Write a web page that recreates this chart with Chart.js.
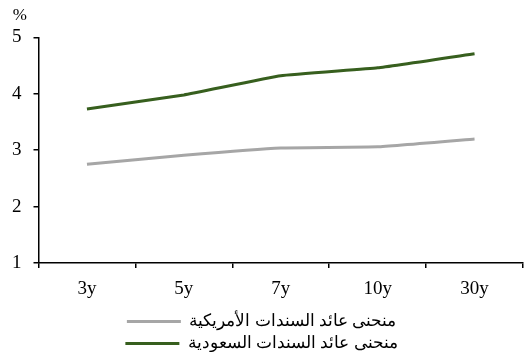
<!DOCTYPE html>
<html>
<head>
<meta charset="utf-8">
<script src="https://cdn.jsdelivr.net/npm/chart.js@4/dist/chart.umd.min.js"></script>
<style>
  html, body { margin: 0; padding: 0; background: #fff; }
  #wrap { width: 525px; height: 352px; }
</style>
</head>
<body>
<div id="wrap"><canvas id="bondChart" width="525" height="352"></canvas></div>
<script>
// tenors and yields (%)
var tenors = ['3y', '5y', '7y', '10y', '30y'];
var usYields = [2.75, 2.91, 3.04, 3.06, 3.20];
var saudiYields = [3.73, 3.98, 4.32, 4.46, 4.71];
var yTicks = [1, 2, 3, 4, 5];

var serif = "'Liberation Serif', 'Times New Roman', 'DejaVu Serif', serif";

var chartdata = {
    labels: tenors,
    datasets: [
        {
            label: 'منحنى عائد السندات الأمريكية',
            data: usYields,
            borderColor: '#a6a6a6',
            backgroundColor: '#a6a6a6',
            borderWidth: 3,
            pointRadius: 0,
            tension: 0.1
        },
        {
            label: 'منحنى عائد السندات السعودية',
            data: saudiYields,
            borderColor: '#375f1e',
            backgroundColor: '#375f1e',
            borderWidth: 3,
            pointRadius: 0,
            tension: 0.1
        }
    ]
};

// stack the legend items one per row, trim its bottom gap
var stackLegend = {
    id: 'stackLegend',
    beforeUpdate: function (chart) {
        var lg = chart.legend;
        if (!lg || lg._stacked) return;
        var origFit = lg.fit.bind(lg);
        lg.fit = function () {
            var full = this.maxWidth;
            this.maxWidth = Math.min(full, 330);
            origFit();
            this.maxWidth = full;
            this.width = full;
            this.height -= 10;
        };
        lg._stacked = true;
    }
};

var ctx = document.getElementById('bondChart');
var lineGraph = new Chart(ctx, {
    type: 'line',
    data: chartdata,
    plugins: [stackLegend],
    options: {
        responsive: false,
        animation: false,
        layout: { padding: { left: 0, right: 2, top: 1, bottom: 0 } },
        plugins: {
            title: {
                display: true,
                text: '   %',
                align: 'start',
                color: '#000',
                font: { family: serif, size: 17, weight: 'normal' },
                padding: { top: 4, bottom: 12 }
            },
            legend: {
                position: 'bottom',
                labels: {
                    color: '#000',
                    font: { family: serif, size: 17 },
                    boxWidth: 54,
                    boxHeight: 3,
                    padding: 5,
                    generateLabels: function (chart) {
                        var items = Chart.defaults.plugins.legend.labels.generateLabels(chart);
                        items.forEach(function (it) { it.lineWidth = 0; });
                        return items;
                    }
                }
            },
            tooltip: { enabled: false }
        },
        scales: {
            x: {
                offset: true,
                afterFit: function (scale) { scale.height = 45; },
                grid: {
                    display: true,
                    offset: true,
                    drawOnChartArea: false,
                    drawTicks: true,
                    tickLength: 5,
                    color: '#000',
                    lineWidth: 1.5
                },
                border: { display: true, color: '#000', width: 1.5 },
                ticks: { color: '#000', font: { family: serif, size: 19 }, padding: 10 }
            },
            y: {
                min: 1,
                max: 5,
                afterBuildTicks: function (axis) {
                    axis.ticks = yTicks.map(function (v) { return { value: v }; });
                },
                grid: {
                    display: true,
                    drawOnChartArea: false,
                    drawTicks: true,
                    tickLength: 5,
                    color: '#000',
                    lineWidth: 1.5
                },
                border: { display: true, color: '#000', width: 1.5 },
                ticks: { color: '#000', font: { family: serif, size: 19 }, padding: 12 }
            }
        }
    }
});
</script>
</body>
</html>
